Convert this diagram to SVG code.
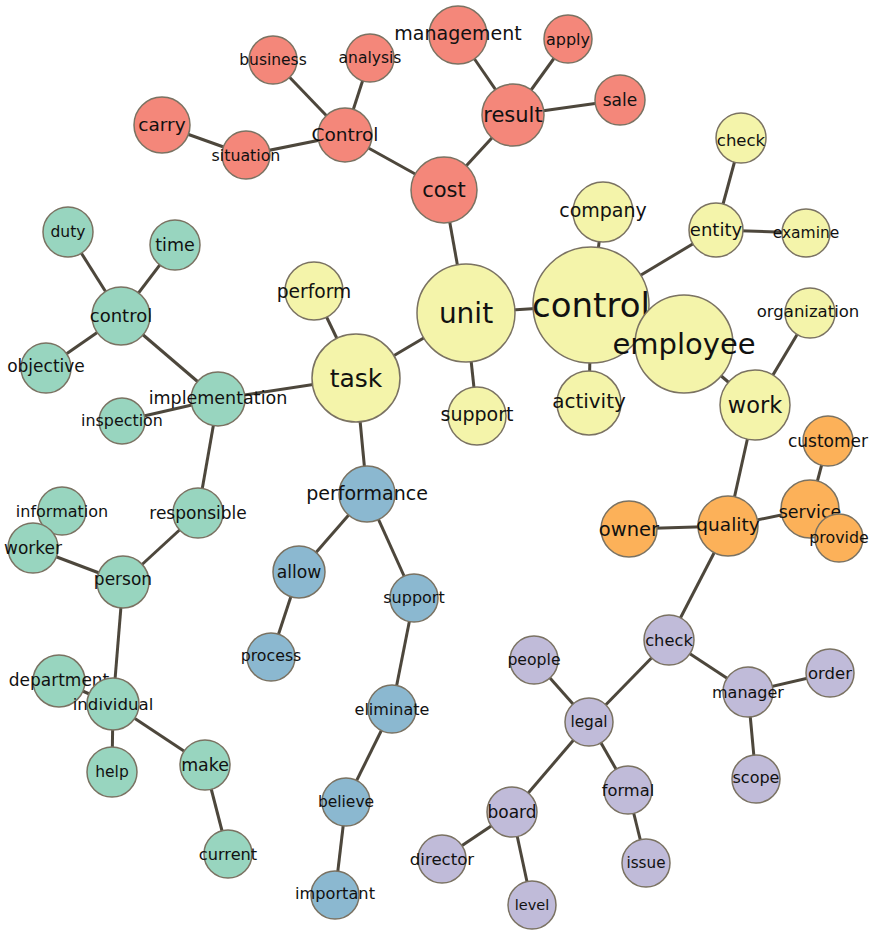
<svg xmlns="http://www.w3.org/2000/svg" width="869" height="931" viewBox="0 0 869 931">
<style>
.e line{stroke:#4d473c;stroke-width:3}
circle{stroke:#7a7262;stroke-width:1.5}
.r circle{fill:#f4877a}
.y circle{fill:#f4f4aa}
.g circle{fill:#98d5bf}
.b circle{fill:#8bb8d0}
.o circle{fill:#fcb159}
.p circle{fill:#c0bbd9}
text{font-family:"DejaVu Sans",Verdana,sans-serif;fill:#111;text-anchor:middle}
</style>
<rect width="869" height="931" fill="#fff"/>
<g id="connectors" class="e">
<line x1="444" y1="190" x2="345" y2="135"/>
<line x1="444" y1="190" x2="513" y2="115"/>
<line x1="345" y1="135" x2="273" y2="60"/>
<line x1="345" y1="135" x2="370" y2="58"/>
<line x1="345" y1="135" x2="246" y2="155"/>
<line x1="246" y1="155" x2="162" y2="125"/>
<line x1="513" y1="115" x2="458" y2="35"/>
<line x1="513" y1="115" x2="568" y2="39"/>
<line x1="513" y1="115" x2="620" y2="100"/>
<line x1="444" y1="190" x2="466" y2="313"/>
<line x1="466" y1="313" x2="591" y2="305"/>
<line x1="466" y1="313" x2="356" y2="378"/>
<line x1="466" y1="313" x2="477" y2="416"/>
<line x1="591" y1="305" x2="603" y2="212"/>
<line x1="591" y1="305" x2="716" y2="230"/>
<line x1="591" y1="305" x2="589" y2="403"/>
<line x1="591" y1="305" x2="684" y2="344"/>
<line x1="684" y1="344" x2="755" y2="405"/>
<line x1="716" y1="230" x2="741" y2="138"/>
<line x1="716" y1="230" x2="806" y2="233"/>
<line x1="755" y1="405" x2="810" y2="313"/>
<line x1="755" y1="405" x2="728" y2="526"/>
<line x1="356" y1="378" x2="314" y2="291"/>
<line x1="356" y1="378" x2="218" y2="399"/>
<line x1="356" y1="378" x2="367" y2="494"/>
<line x1="218" y1="399" x2="121" y2="316"/>
<line x1="218" y1="399" x2="122" y2="421"/>
<line x1="218" y1="399" x2="198" y2="513"/>
<line x1="121" y1="316" x2="68" y2="232"/>
<line x1="121" y1="316" x2="175" y2="245"/>
<line x1="121" y1="316" x2="46" y2="368"/>
<line x1="198" y1="513" x2="123" y2="582"/>
<line x1="123" y1="582" x2="33" y2="548"/>
<line x1="33" y1="548" x2="62" y2="511"/>
<line x1="123" y1="582" x2="113" y2="704"/>
<line x1="113" y1="704" x2="59" y2="681"/>
<line x1="113" y1="704" x2="112" y2="772"/>
<line x1="113" y1="704" x2="205" y2="765"/>
<line x1="205" y1="765" x2="228" y2="854"/>
<line x1="367" y1="494" x2="299" y2="572"/>
<line x1="367" y1="494" x2="414" y2="598"/>
<line x1="299" y1="572" x2="271" y2="657"/>
<line x1="414" y1="598" x2="392" y2="709"/>
<line x1="392" y1="709" x2="346" y2="802"/>
<line x1="346" y1="802" x2="335" y2="895"/>
<line x1="728" y1="526" x2="629" y2="529"/>
<line x1="728" y1="526" x2="810" y2="509"/>
<line x1="810" y1="509" x2="828" y2="441"/>
<line x1="810" y1="509" x2="839" y2="538"/>
<line x1="728" y1="526" x2="669" y2="640"/>
<line x1="669" y1="640" x2="589" y2="722"/>
<line x1="669" y1="640" x2="748" y2="692"/>
<line x1="748" y1="692" x2="830" y2="673"/>
<line x1="748" y1="692" x2="756" y2="779"/>
<line x1="589" y1="722" x2="534" y2="660"/>
<line x1="589" y1="722" x2="628" y2="790"/>
<line x1="589" y1="722" x2="512" y2="812"/>
<line x1="628" y1="790" x2="646" y2="863"/>
<line x1="512" y1="812" x2="442" y2="859"/>
<line x1="512" y1="812" x2="532" y2="905"/>
</g>
<g class="r">
<g id="n-cost"><circle cx="444" cy="190" r="33"/><text x="444" y="190" dy="0.35em" font-size="21">cost</text></g>
<g id="n-Control"><circle cx="345" cy="135" r="27"/><text x="345" y="135" dy="0.35em" font-size="18.5">Control</text></g>
<g id="n-business"><circle cx="273" cy="60" r="24"/><text x="273" y="60" dy="0.35em" font-size="15.5">business</text></g>
<g id="n-analysis"><circle cx="370" cy="58" r="24"/><text x="370" y="58" dy="0.35em" font-size="15.5">analysis</text></g>
<g id="n-management"><circle cx="458" cy="35" r="29"/><text x="458" y="33" dy="0.35em" font-size="19">management</text></g>
<g id="n-apply"><circle cx="568" cy="39" r="24"/><text x="568" y="39" dy="0.35em" font-size="16">apply</text></g>
<g id="n-sale"><circle cx="620" cy="100" r="25"/><text x="620" y="100" dy="0.35em" font-size="17">sale</text></g>
<g id="n-result"><circle cx="513" cy="115" r="31"/><text x="513" y="115" dy="0.35em" font-size="21">result</text></g>
<g id="n-carry"><circle cx="162" cy="125" r="28"/><text x="162" y="125" dy="0.35em" font-size="18.5">carry</text></g>
<g id="n-situation"><circle cx="246" cy="155" r="24"/><text x="246" y="155" dy="0.35em" font-size="15.8">situation</text></g>
</g>
<g class="y">
<g id="n-unit"><circle cx="466" cy="313" r="49"/><text x="466" y="313" dy="0.35em" font-size="28">unit</text></g>
<g id="n-control"><circle cx="591" cy="305" r="58"/><text x="591" y="305" dy="0.35em" font-size="34">control</text></g>
<g id="n-employee"><circle cx="684" cy="344" r="49"/><text x="684" y="344" dy="0.35em" font-size="29">employee</text></g>
<g id="n-company"><circle cx="603" cy="212" r="30"/><text x="603" y="210" dy="0.35em" font-size="19">company</text></g>
<g id="n-entity"><circle cx="716" cy="230" r="27"/><text x="716" y="230" dy="0.35em" font-size="18">entity</text></g>
<g id="n-examine"><circle cx="806" cy="233" r="24"/><text x="806" y="233" dy="0.35em" font-size="15.5">examine</text></g>
<g id="n-check-y"><circle cx="741" cy="138" r="25"/><text x="741" y="140" dy="0.35em" font-size="16.5">check</text></g>
<g id="n-organization"><circle cx="810" cy="313" r="25"/><text x="808" y="311" dy="0.35em" font-size="16.5">organization</text></g>
<g id="n-work"><circle cx="755" cy="405" r="35"/><text x="755" y="405" dy="0.35em" font-size="22.5">work</text></g>
<g id="n-activity"><circle cx="589" cy="403" r="32"/><text x="589" y="401" dy="0.35em" font-size="20">activity</text></g>
<g id="n-support-y"><circle cx="477" cy="416" r="29"/><text x="477" y="414" dy="0.35em" font-size="19">support</text></g>
<g id="n-task"><circle cx="356" cy="378" r="44"/><text x="356" y="378" dy="0.35em" font-size="25">task</text></g>
<g id="n-perform"><circle cx="314" cy="291" r="29"/><text x="314" y="291" dy="0.35em" font-size="18.7">perform</text></g>
</g>
<g class="g">
<g id="n-duty"><circle cx="68" cy="232" r="25"/><text x="68" y="232" dy="0.35em" font-size="15.5">duty</text></g>
<g id="n-time"><circle cx="175" cy="245" r="25"/><text x="175" y="245" dy="0.35em" font-size="17.5">time</text></g>
<g id="n-control-g"><circle cx="121" cy="316" r="29"/><text x="121" y="316" dy="0.35em" font-size="18">control</text></g>
<g id="n-objective"><circle cx="46" cy="368" r="25"/><text x="46" y="366" dy="0.35em" font-size="17">objective</text></g>
<g id="n-inspection"><circle cx="122" cy="421" r="23"/><text x="122" y="420" dy="0.35em" font-size="15.9">inspection</text></g>
<g id="n-implementation"><circle cx="218" cy="399" r="27"/><text x="218" y="398" dy="0.35em" font-size="17.5">implementation</text></g>
<g id="n-responsible"><circle cx="198" cy="513" r="25"/><text x="198" y="513" dy="0.35em" font-size="17">responsible</text></g>
<g id="n-information"><circle cx="62" cy="511" r="24"/><text x="62" y="511" dy="0.35em" font-size="16">information</text></g>
<g id="n-worker"><circle cx="33" cy="548" r="25"/><text x="33" y="548" dy="0.35em" font-size="17">worker</text></g>
<g id="n-person"><circle cx="123" cy="582" r="26"/><text x="123" y="579" dy="0.35em" font-size="17">person</text></g>
<g id="n-department"><circle cx="59" cy="681" r="26"/><text x="59" y="680" dy="0.35em" font-size="17">department</text></g>
<g id="n-individual"><circle cx="113" cy="704" r="26"/><text x="113" y="704" dy="0.35em" font-size="16.6">individual</text></g>
<g id="n-help"><circle cx="112" cy="772" r="25"/><text x="112" y="772" dy="0.35em" font-size="15.5">help</text></g>
<g id="n-make"><circle cx="205" cy="765" r="25"/><text x="205" y="765" dy="0.35em" font-size="17.4">make</text></g>
<g id="n-current"><circle cx="228" cy="854" r="24"/><text x="228" y="854" dy="0.35em" font-size="16.2">current</text></g>
</g>
<g class="b">
<g id="n-performance"><circle cx="367" cy="494" r="28"/><text x="367" y="493" dy="0.35em" font-size="19">performance</text></g>
<g id="n-allow"><circle cx="299" cy="572" r="26"/><text x="299" y="572" dy="0.35em" font-size="17.2">allow</text></g>
<g id="n-process"><circle cx="271" cy="657" r="24"/><text x="271" y="655" dy="0.35em" font-size="15.8">process</text></g>
<g id="n-support-b"><circle cx="414" cy="598" r="24"/><text x="414" y="597" dy="0.35em" font-size="16">support</text></g>
<g id="n-eliminate"><circle cx="392" cy="709" r="24"/><text x="392" y="709" dy="0.35em" font-size="16">eliminate</text></g>
<g id="n-believe"><circle cx="346" cy="802" r="24"/><text x="346" y="802" dy="0.35em" font-size="15.5">believe</text></g>
<g id="n-important"><circle cx="335" cy="895" r="24"/><text x="335" y="893" dy="0.35em" font-size="16.2">important</text></g>
</g>
<g class="o">
<g id="n-owner"><circle cx="629" cy="529" r="28"/><text x="629" y="529" dy="0.35em" font-size="19.5">owner</text></g>
<g id="n-quality"><circle cx="728" cy="526" r="30"/><text x="728" y="525" dy="0.35em" font-size="18.5">quality</text></g>
<g id="n-customer"><circle cx="828" cy="441" r="25"/><text x="828" y="441" dy="0.35em" font-size="17">customer</text></g>
<g id="n-service"><circle cx="810" cy="509" r="29"/><text x="810" y="512" dy="0.35em" font-size="17.5">service</text></g>
<g id="n-provide"><circle cx="839" cy="538" r="24"/><text x="839" y="537" dy="0.35em" font-size="15.8">provide</text></g>
</g>
<g class="p">
<g id="n-check-p"><circle cx="669" cy="640" r="25"/><text x="669" y="640" dy="0.35em" font-size="16.3">check</text></g>
<g id="n-people"><circle cx="534" cy="660" r="24"/><text x="534" y="660" dy="0.35em" font-size="15.7">people</text></g>
<g id="n-legal"><circle cx="589" cy="722" r="24"/><text x="589" y="722" dy="0.35em" font-size="15.4">legal</text></g>
<g id="n-manager"><circle cx="748" cy="692" r="25"/><text x="748" y="692" dy="0.35em" font-size="16">manager</text></g>
<g id="n-order"><circle cx="830" cy="673" r="24"/><text x="830" y="673" dy="0.35em" font-size="16.5">order</text></g>
<g id="n-scope"><circle cx="756" cy="779" r="24"/><text x="756" y="777" dy="0.35em" font-size="16">scope</text></g>
<g id="n-formal"><circle cx="628" cy="790" r="24"/><text x="628" y="790" dy="0.35em" font-size="16.3">formal</text></g>
<g id="n-issue"><circle cx="646" cy="863" r="24"/><text x="646" y="863" dy="0.35em" font-size="15.2">issue</text></g>
<g id="n-board"><circle cx="512" cy="812" r="25"/><text x="512" y="812" dy="0.35em" font-size="17">board</text></g>
<g id="n-director"><circle cx="442" cy="859" r="24"/><text x="442" y="859" dy="0.35em" font-size="16.6">director</text></g>
<g id="n-level"><circle cx="532" cy="905" r="24"/><text x="532" y="905" dy="0.35em" font-size="14.5">level</text></g>
</g>
</svg>
